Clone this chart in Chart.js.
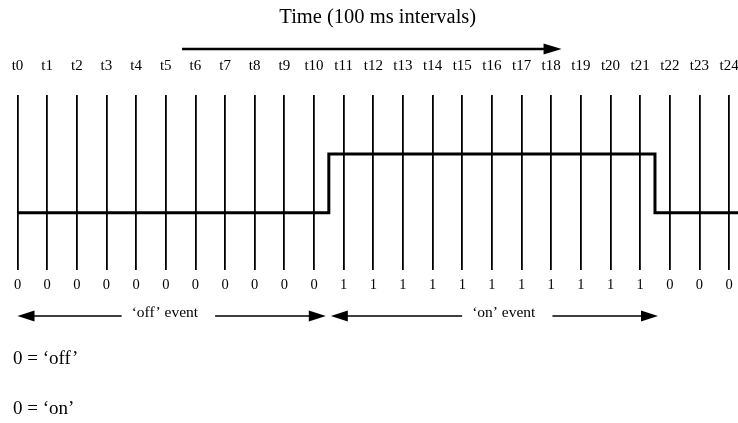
<!DOCTYPE html>
<html>
<head>
<meta charset="utf-8">
<script src="https://cdn.jsdelivr.net/npm/chart.js@4.4.0/dist/chart.umd.min.js"></script>
<style>
  html, body { margin: 0; padding: 0; background: #fff; }
  #wrap { width: 738px; height: 423px; }
</style>
</head>
<body>
<div id="wrap"><canvas id="myChart" width="738" height="423"></canvas></div>
<script>
// sample times and the state read at each one
var timeLabels = ["t0", "t1", "t2", "t3", "t4", "t5", "t6", "t7", "t8", "t9", "t10", "t11", "t12",
                  "t13", "t14", "t15", "t16", "t17", "t18", "t19", "t20", "t21", "t22", "t23", "t24"];
var stateValues = [0, 0, 0, 0, 0, 0, 0, 0, 0, 0, 0, 1, 1, 1, 1, 1, 1, 1, 1, 1, 1, 1, 0, 0, 0];

// event spans in time units (edges sit halfway between samples)
var eventLabels = ["\u2018off\u2019 event", "\u2018on\u2019 event"];
var eventFrom = [0, 10.5];
var eventTo = [10.5, 21.5];
var eventTextAt = [4.97, 16.4];

// the "time runs this way" arrow above the labels
var timeArrowFrom = 5.55;
var timeArrowTo = 18.35;

var legendLines = ["0 = \u2018off\u2019", "0 = \u2018on\u2019"];

var xMax = 24.3;
var serif = "'Liberation Serif', 'DejaVu Serif', serif";

var signal = stateValues.map(function (v, i) { return { x: i, y: v }; });
signal.push({ x: xMax, y: stateValues[stateValues.length - 1] });

function arrowHead(c, tipX, y, dir, len, half) {
    c.beginPath();
    c.moveTo(tipX, y);
    c.lineTo(tipX - dir * len, y - half);
    c.lineTo(tipX - dir * len, y + half);
    c.closePath();
    c.fill();
}

var extras = {
    id: 'extras',
    afterDraw: function (chart) {
        var c = chart.ctx;
        var x = chart.scales.x;
        c.save();
        c.fillStyle = '#000';
        c.strokeStyle = '#000';

        // top arrow
        var ax0 = x.getPixelForValue(timeArrowFrom);
        var ax1 = x.getPixelForValue(timeArrowTo);
        c.lineWidth = 2.6;
        c.beginPath();
        c.moveTo(ax0, 49);
        c.lineTo(ax1 - 14, 49);
        c.stroke();
        arrowHead(c, ax1, 49, 1, 18, 5.5);

        // event arrows
        c.font = "15.5px " + serif;
        c.textAlign = 'center';
        c.textBaseline = 'middle';
        var ey = 316;
        for (var i = 0; i < eventLabels.length; i++) {
            var p0 = x.getPixelForValue(eventFrom[i]) + (i > 0 ? 2 : 0);
            var p1 = x.getPixelForValue(eventTo[i]) - (i === 0 ? 3 : -3);
            var pt = x.getPixelForValue(eventTextAt[i]);
            var w = c.measureText(eventLabels[i]).width;
            c.lineWidth = 1.6;
            c.beginPath();
            c.moveTo(p0 + 12, ey);
            c.lineTo(pt - w / 2 - 10, ey);
            c.moveTo(pt + w / 2 + 17, ey);
            c.lineTo(p1 - 12, ey);
            c.stroke();
            arrowHead(c, p0, ey, -1, 17, 5.5);
            arrowHead(c, p1, ey, 1, 17, 5.5);
            c.fillText(eventLabels[i], pt, ey - 3);
        }

        // legend lines
        c.font = "19px " + serif;
        c.textAlign = 'left';
        c.fillText(legendLines[0], 13, 359);
        c.fillText(legendLines[1], 13, 409);
        c.restore();
    }
};

var ctx = document.getElementById("myChart");
var myChart = new Chart(ctx, {
    type: 'line',
    data: {
        datasets: [
            {
                label: 'state',
                data: signal,
                stepped: 'middle',
                borderColor: '#000',
                borderWidth: 3,
                pointRadius: 0,
                fill: false,
                xAxisID: 'x',
                yAxisID: 'y'
            }
        ]
    },
    options: {
        responsive: false,
        animation: false,
        layout: { padding: { left: 17.5, right: 0, top: 0, bottom: 0 } },
        plugins: {
            legend: { display: false },
            tooltip: { enabled: false },
            title: {
                display: true,
                text: 'Time (100 ms intervals)',
                color: '#000',
                font: { family: serif, size: 20.5, weight: 'normal' },
                padding: { top: 5, bottom: 0 }
            }
        },
        scales: {
            xTop: {
                type: 'linear',
                position: 'top',
                min: 0,
                max: xMax,
                grid: { display: false },
                border: { display: false },
                ticks: {
                    stepSize: 1,
                    includeBounds: false,
                    autoSkip: false,
                    maxRotation: 0,
                    color: '#000',
                    padding: 12,
                    font: { family: serif, size: 15 },
                    callback: function (v) { return timeLabels[v]; }
                },
                afterFit: function (s) { s.height = 65.4; s.paddingLeft = 0; s.paddingRight = 0; }
            },
            x: {
                type: 'linear',
                position: 'bottom',
                min: 0,
                max: xMax,
                grid: { color: '#000', lineWidth: 1.8, drawTicks: false },
                border: { display: false },
                ticks: {
                    stepSize: 1,
                    includeBounds: false,
                    autoSkip: false,
                    maxRotation: 0,
                    color: '#000',
                    padding: 6,
                    font: { family: serif, size: 14.5 },
                    callback: function (v) { return stateValues[v]; }
                },
                afterFit: function (s) { s.height = 153; s.paddingLeft = 0; s.paddingRight = 0; }
            },
            y: {
                display: false,
                min: -0.97,
                max: 2.0
            }
        }
    },
    plugins: [extras]
});
</script>
</body>
</html>
